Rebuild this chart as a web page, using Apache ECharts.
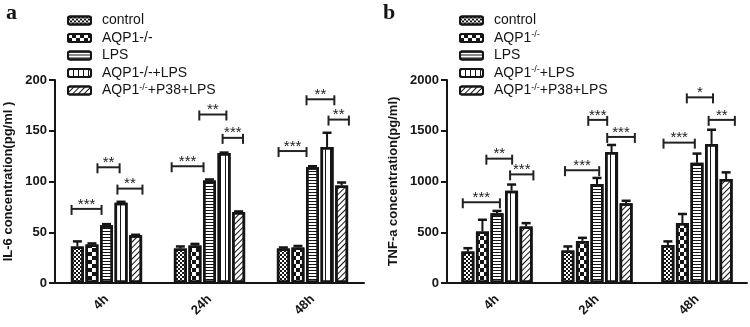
<!DOCTYPE html>
<html>
<head>
<meta charset="utf-8">
<script src="https://cdn.jsdelivr.net/npm/echarts@6/dist/echarts.min.js"></script>
<style>
  html, body { margin: 0; padding: 0; background: #fff; }
  #chart { width: 750px; height: 327px; }
</style>
</head>
<body>
<div id="chart"></div>
<script>
// time points shared by both panels
const categories = ["4h", "24h", "48h"];
const groupNames = ["control", "AQP1-/-", "LPS", "AQP1-/-+LPS", "AQP1-/-+P38+LPS"];

// panel a: IL-6 (pg/ml), mean and SEM per group
const il6Control = [36, 34, 34];
const il6Aqp1 = [38, 37, 35];
const il6Lps = [57, 101, 114];
const il6Aqp1Lps = [79, 128, 134];
const il6Aqp1P38Lps = [47, 70, 96];
const il6ControlErr = [5, 2, 1];
const il6Aqp1Err = [1, 1.5, 1.5];
const il6LpsErr = [1, 1, 1];
const il6Aqp1LpsErr = [1, 0.5, 14];
const il6Aqp1P38LpsErr = [0.5, 0.5, 3];

// panel b: TNF-a (pg/ml)
const tnfControl = [310, 320, 375];
const tnfAqp1 = [508, 415, 590];
const tnfLps = [688, 975, 1185];
const tnfAqp1Lps = [910, 1290, 1370];
const tnfAqp1P38Lps = [557, 785, 1025];
const tnfControlErr = [33, 40, 35];
const tnfAqp1Err = [115, 30, 90];
const tnfLpsErr = [22, 60, 90];
const tnfAqp1LpsErr = [60, 70, 140];
const tnfAqp1P38LpsErr = [33, 25, 65];

// significance brackets: [time index, from bar slot, to bar slot, height, stars]
const bracketsA = [
  [0, -0.4, 1.66, 73, "***"],
  [0, 1.38, 2.9, 114, "**"],
  [0, 2.75, 4.47, 93, "**"],
  [1, -0.6, 1.59, 115, "***"],
  [1, 1.3, 3.16, 166, "**"],
  [1, 2.9, 4.3, 143, "***"],
  [2, -0.33, 1.59, 130, "***"],
  [2, 1.59, 3.5, 181, "**"],
  [2, 3.1, 4.5, 161, "**"]
];
const bracketsB = [
  [0, -0.35, 2.2, 795, "***"],
  [0, 1.27, 3.04, 1225, "**"],
  [0, 2.9, 4.5, 1070, "***"],
  [1, -0.2, 2.15, 1112, "***"],
  [1, 1.4, 2.7, 1607, "***"],
  [1, 2.7, 4.6, 1439, "***"],
  [2, -0.3, 1.85, 1383, "***"],
  [2, 1.3, 3.1, 1829, "*"],
  [2, 2.8, 4.6, 1607, "**"]
];

const BAR_W = 13;
const BAR_GAP = 0.12;
const STEP = BAR_W * (1 + BAR_GAP);
const INK = "#151515";
const FONT = "Liberation Sans";

// fill patterns, one per group
const decals = [
  { symbol: "rect", symbolKeepAspect: false, dashArrayX: [[2, 2], [0, 2, 2, 0]], dashArrayY: [2, 0], color: INK },
  { symbol: "rect", symbolKeepAspect: false, dashArrayX: [[4, 4], [0, 4, 4, 0]], dashArrayY: [4, 0], color: INK },
  { symbol: "rect", symbolKeepAspect: false, dashArrayX: [1, 0], dashArrayY: [1, 2], color: INK },
  { symbol: "rect", symbolKeepAspect: false, dashArrayX: [1, 4], dashArrayY: [1, 0], color: INK },
  { symbol: "rect", symbolKeepAspect: false, dashArrayX: [1, 0], dashArrayY: [1, 2.5], rotation: -Math.PI / 4, color: INK }
];

function barSeries(means, idx) {
  return means.map((vals, i) => ({
    name: groupNames[i],
    type: "bar",
    xAxisIndex: idx,
    yAxisIndex: idx,
    data: vals,
    barWidth: BAR_W,
    barGap: BAR_GAP * 100 + "%",
    itemStyle: { color: "#fff", borderColor: INK, borderWidth: 2.5, decal: decals[i] },
    emphasis: { disabled: true },
    z: 2
  }));
}

function errorSeries(means, errs, idx) {
  const data = [];
  means.forEach((vals, s) => vals.forEach((v, c) => data.push([c, s, v, errs[s][c]])));
  return {
    type: "custom",
    xAxisIndex: idx,
    yAxisIndex: idx,
    z: 3,
    silent: true,
    encode: { x: 0, y: 2 },
    data: data,
    renderItem: (params, api) => {
      const c = api.value(0), s = api.value(1), v = api.value(2), e = api.value(3);
      const base = api.coord([c, v]);
      const top = api.coord([c, v + e]);
      const x = base[0] + (s - 2) * STEP;
      return {
        type: "group",
        children: [
          { type: "line", shape: { x1: x, y1: base[1], x2: x, y2: top[1] }, style: { stroke: INK, lineWidth: 2 } },
          { type: "line", shape: { x1: x - 4.5, y1: top[1], x2: x + 4.5, y2: top[1] }, style: { stroke: INK, lineWidth: 2.5 } }
        ]
      };
    }
  };
}

function bracketSeries(list, idx) {
  return {
    type: "custom",
    xAxisIndex: idx,
    yAxisIndex: idx,
    z: 4,
    silent: true,
    encode: { x: 0, y: 3 },
    data: list.map((b) => b.slice(0, 4)),
    renderItem: (params, api) => {
      const p = api.coord([api.value(0), api.value(3)]);
      const x1 = p[0] + (api.value(1) - 2) * STEP;
      const x2 = p[0] + (api.value(2) - 2) * STEP;
      const y = p[1];
      const ln = { stroke: "#222", lineWidth: 2 };
      return {
        type: "group",
        children: [
          { type: "line", shape: { x1: x1, y1: y, x2: x2, y2: y }, style: ln },
          { type: "line", shape: { x1: x1, y1: y - 4, x2: x1, y2: y + 6 }, style: ln },
          { type: "line", shape: { x1: x2, y1: y - 4, x2: x2, y2: y + 6 }, style: ln },
          {
            type: "text",
            style: {
              text: list[params.dataIndex][4],
              x: (x1 + x2) / 2,
              y: y + 3,
              align: "center",
              verticalAlign: "bottom",
              textAlign: "center",
              textVerticalAlign: "bottom",
              font: "15px " + FONT,
              fill: "#222"
            }
          }
        ]
      };
    }
  };
}

function valueAxis(idx, max, step, name, gap) {
  return {
    type: "value",
    gridIndex: idx,
    min: 0,
    max: max,
    interval: step,
    name: name,
    nameLocation: "middle",
    nameGap: gap,
    nameTextStyle: { fontFamily: FONT, fontWeight: "bold", fontSize: 13, color: INK },
    axisLine: { show: true, lineStyle: { color: INK, width: 2 } },
    axisTick: { show: true, length: 6, lineStyle: { color: INK, width: 2 } },
    axisLabel: { fontFamily: FONT, fontWeight: "bold", fontSize: 13, color: INK, margin: 8, formatter: (v) => String(v) },
    splitLine: { show: false }
  };
}

function catAxis(idx) {
  return {
    type: "category",
    gridIndex: idx,
    data: categories,
    axisLine: { lineStyle: { color: INK, width: 2 } },
    axisTick: { alignWithLabel: true, length: 6, lineStyle: { color: INK, width: 2 } },
    axisLabel: { rotate: 45, fontFamily: FONT, fontWeight: "bold", fontSize: 13, color: INK, margin: 14 }
  };
}

const rich = { sup: { fontFamily: FONT, fontSize: 9, lineHeight: 9, padding: [0, 0, 6, 0], color: INK } };

function legend(left, supAll) {
  return {
    orient: "vertical",
    left: left,
    top: 8,
    itemWidth: 23,
    itemHeight: 8,
    itemGap: 2.5,
    data: groupNames,
    selectedMode: false,
    formatter: (n) => {
      if (n === "AQP1-/-+P38+LPS" || (supAll && n.indexOf("AQP1") === 0)) {
        return n.replace("-/-", "{sup|-/-}");
      }
      return n;
    },
    textStyle: { fontFamily: FONT, fontSize: 14, color: INK, lineHeight: 15, padding: [0, 0, 0, 6], rich: rich }
  };
}

const meansA = [il6Control, il6Aqp1, il6Lps, il6Aqp1Lps, il6Aqp1P38Lps];
const errsA = [il6ControlErr, il6Aqp1Err, il6LpsErr, il6Aqp1LpsErr, il6Aqp1P38LpsErr];
const meansB = [tnfControl, tnfAqp1, tnfLps, tnfAqp1Lps, tnfAqp1P38Lps];
const errsB = [tnfControlErr, tnfAqp1Err, tnfLpsErr, tnfAqp1LpsErr, tnfAqp1P38LpsErr];

const chart = echarts.init(document.getElementById("chart"), null, { renderer: "canvas" });
chart.setOption({
  animation: false,
  backgroundColor: "#fff",
  title: [
    { text: "a", left: 1, top: -3, textStyle: { fontFamily: "Liberation Serif", fontWeight: "bold", fontSize: 22, color: INK } },
    { text: "b", left: 378, top: -3, textStyle: { fontFamily: "Liberation Serif", fontWeight: "bold", fontSize: 22, color: INK } }
  ],
  legend: [legend(62, false), legend(454, true)],
  grid: [
    { left: 55, top: 80, width: 309, height: 203 },
    { left: 447, top: 80, width: 300, height: 203 }
  ],
  xAxis: [catAxis(0), catAxis(1)],
  yAxis: [
    valueAxis(0, 200, 50, "IL-6 concentration(pg/ml )", 40),
    valueAxis(1, 2000, 500, "TNF-a concentration(pg/ml)", 47)
  ],
  series: [
    ...barSeries(meansA, 0),
    ...barSeries(meansB, 1),
    errorSeries(meansA, errsA, 0),
    errorSeries(meansB, errsB, 1),
    bracketSeries(bracketsA, 0),
    bracketSeries(bracketsB, 1)
  ]
});
</script>
</body>
</html>
